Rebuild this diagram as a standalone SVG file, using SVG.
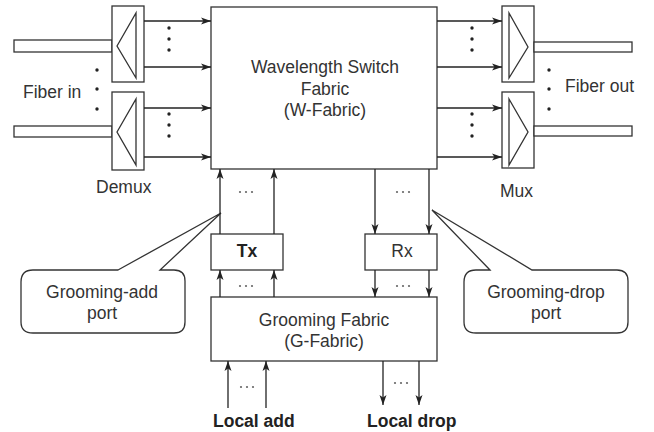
<svg xmlns="http://www.w3.org/2000/svg" width="654" height="432" viewBox="0 0 654 432">
<defs>
<marker id="ah" markerUnits="userSpaceOnUse" markerWidth="12" markerHeight="8" refX="10" refY="4" orient="auto">
<path d="M0,0.5 L10,4 L0,7.5 L2.5,4 z" fill="#222"/>
</marker>
</defs>
<style>
.box{fill:#fff;stroke:#333;stroke-width:1.3}
.ln{fill:none;stroke:#333;stroke-width:1.3}
.ar{fill:none;stroke:#222;stroke-width:1.3;marker-end:url(#ah)}
.t{font-family:"Liberation Sans",Arial,sans-serif;font-size:17.5px;fill:#333}
.b{font-weight:bold;fill:#222}
.c{text-anchor:middle}
.dv{fill:#222}
.dh{fill:#666}
</style>
<rect width="654" height="432" fill="#fff"/>

<g id="fiber-in">
<rect class="box" x="14" y="40" width="98" height="12"/>
<rect class="box" x="14" y="126" width="98" height="11"/>
<circle class="dv" cx="97" cy="70" r="1.7"/><circle class="dv" cx="97" cy="89" r="1.7"/><circle class="dv" cx="97" cy="109" r="1.7"/>
<text class="t" x="23" y="98">Fiber in</text>
</g>

<g id="demux">
<rect class="box" x="112" y="6" width="32" height="76"/>
<polygon class="ln" points="117,46 136,13 136,78"/>
<rect class="box" x="112" y="92" width="32" height="78"/>
<polygon class="ln" points="117,132 136,99 136,165"/>
<text class="t" x="96" y="193">Demux</text>
</g>

<g id="w-fabric">
<rect class="box" x="211" y="7" width="226" height="162"/>
<text class="t c" x="325" y="73">Wavelength Switch</text>
<text class="t c" x="325" y="95">Fabric</text>
<text class="t c" x="325" y="116">(W-Fabric)</text>
</g>

<g id="mux">
<rect class="box" x="502" y="6" width="32" height="76"/>
<polygon class="ln" points="509,13 528,47 509,78"/>
<rect class="box" x="502" y="92" width="32" height="76"/>
<polygon class="ln" points="509,99 528,132 509,165"/>
<text class="t" x="500" y="197">Mux</text>
</g>

<g id="fiber-out">
<rect class="box" x="534" y="42" width="98" height="10"/>
<rect class="box" x="534" y="126" width="98" height="10"/>
<circle class="dv" cx="549" cy="70" r="1.7"/><circle class="dv" cx="549" cy="89" r="1.7"/><circle class="dv" cx="549" cy="109" r="1.7"/>
<text class="t" x="565" y="92">Fiber out</text>
</g>

<g id="tx">
<rect class="box" x="211" y="234" width="72" height="36"/>
<text class="t b c" x="247" y="257" font-size="17">Tx</text>
</g>

<g id="rx">
<rect class="box" x="365" y="234" width="72" height="36"/>
<text class="t c" x="402" y="257" font-size="17">Rx</text>
</g>

<g id="g-fabric">
<rect class="box" x="211" y="297" width="226" height="64"/>
<text class="t c" x="324" y="326">Grooming Fabric</text>
<text class="t c" x="324" y="347">(G-Fabric)</text>
</g>

<g id="grooming-add-port">
<path class="box" d="M118,270 L221,213 L160,270 L174,270 Q185,270 185,281 L185,322 Q185,333 174,333 L33,333 Q21,333 21,322 L21,282 Q21,270 33,270 Z"/>
<text class="t c" x="102" y="298">Grooming-add</text>
<text class="t c" x="102" y="319">port</text>
</g>

<g id="grooming-drop-port">
<path class="box" d="M490,270 L432,210 L532,270 L617,270 Q628,270 628,281 L628,322 Q628,333 617,333 L476,333 Q464,333 464,322 L464,282 Q464,270 476,270 Z"/>
<text class="t c" x="546" y="298">Grooming-drop</text>
<text class="t c" x="546" y="319">port</text>
</g>

<g id="local-add">
<text class="t b" x="213" y="427" font-size="16.5">Local add</text>
</g>
<g id="local-drop">
<text class="t b" x="367" y="427" font-size="16.5">Local drop</text>
</g>

<g id="connectors">
<line class="ar" x1="144" y1="21" x2="211" y2="21"/>
<line class="ar" x1="144" y1="67" x2="211" y2="67"/>
<line class="ar" x1="144" y1="108" x2="211" y2="108"/>
<line class="ar" x1="144" y1="157" x2="211" y2="157"/>
<circle class="dv" cx="169" cy="28" r="1.7"/><circle class="dv" cx="169" cy="39" r="1.7"/><circle class="dv" cx="169" cy="50" r="1.7"/>
<circle class="dv" cx="169" cy="114" r="1.7"/><circle class="dv" cx="169" cy="125" r="1.7"/><circle class="dv" cx="169" cy="136" r="1.7"/>

<line class="ar" x1="437" y1="21" x2="502" y2="21"/>
<line class="ar" x1="437" y1="67" x2="502" y2="67"/>
<line class="ar" x1="437" y1="108" x2="502" y2="108"/>
<line class="ar" x1="437" y1="157" x2="502" y2="157"/>
<circle class="dv" cx="472" cy="28" r="1.7"/><circle class="dv" cx="472" cy="39" r="1.7"/><circle class="dv" cx="472" cy="50" r="1.7"/>
<circle class="dv" cx="472" cy="114" r="1.7"/><circle class="dv" cx="472" cy="125" r="1.7"/><circle class="dv" cx="472" cy="136" r="1.7"/>

<line class="ar" x1="220" y1="234" x2="220" y2="169"/>
<line class="ar" x1="274" y1="234" x2="274" y2="169"/>
<circle class="dh" cx="240" cy="192" r="1.1"/><circle class="dh" cx="246" cy="192" r="1.1"/><circle class="dh" cx="252" cy="192" r="1.1"/>
<line class="ar" x1="220" y1="297" x2="220" y2="270"/>
<line class="ar" x1="274" y1="297" x2="274" y2="270"/>
<circle class="dh" cx="240" cy="286" r="1.1"/><circle class="dh" cx="246" cy="286" r="1.1"/><circle class="dh" cx="252" cy="286" r="1.1"/>

<line class="ar" x1="375" y1="169" x2="375" y2="234"/>
<line class="ar" x1="429" y1="169" x2="429" y2="234"/>
<circle class="dh" cx="397" cy="192" r="1.1"/><circle class="dh" cx="403" cy="192" r="1.1"/><circle class="dh" cx="409" cy="192" r="1.1"/>
<line class="ar" x1="375" y1="270" x2="375" y2="297"/>
<line class="ar" x1="429" y1="270" x2="429" y2="297"/>
<circle class="dh" cx="397" cy="286" r="1.1"/><circle class="dh" cx="403" cy="286" r="1.1"/><circle class="dh" cx="409" cy="286" r="1.1"/>

<line class="ar" x1="228" y1="408" x2="228" y2="361"/>
<line class="ar" x1="266" y1="408" x2="266" y2="361"/>
<circle class="dh" cx="241" cy="387" r="1.1"/><circle class="dh" cx="247" cy="387" r="1.1"/><circle class="dh" cx="253" cy="387" r="1.1"/>

<line class="ar" x1="383" y1="361" x2="383" y2="405" stroke-width="2"/>
<line class="ar" x1="419" y1="361" x2="419" y2="405"/>
<circle class="dh" cx="395" cy="383" r="1.1"/><circle class="dh" cx="401" cy="383" r="1.1"/><circle class="dh" cx="407" cy="383" r="1.1"/>
</g>
</svg>
